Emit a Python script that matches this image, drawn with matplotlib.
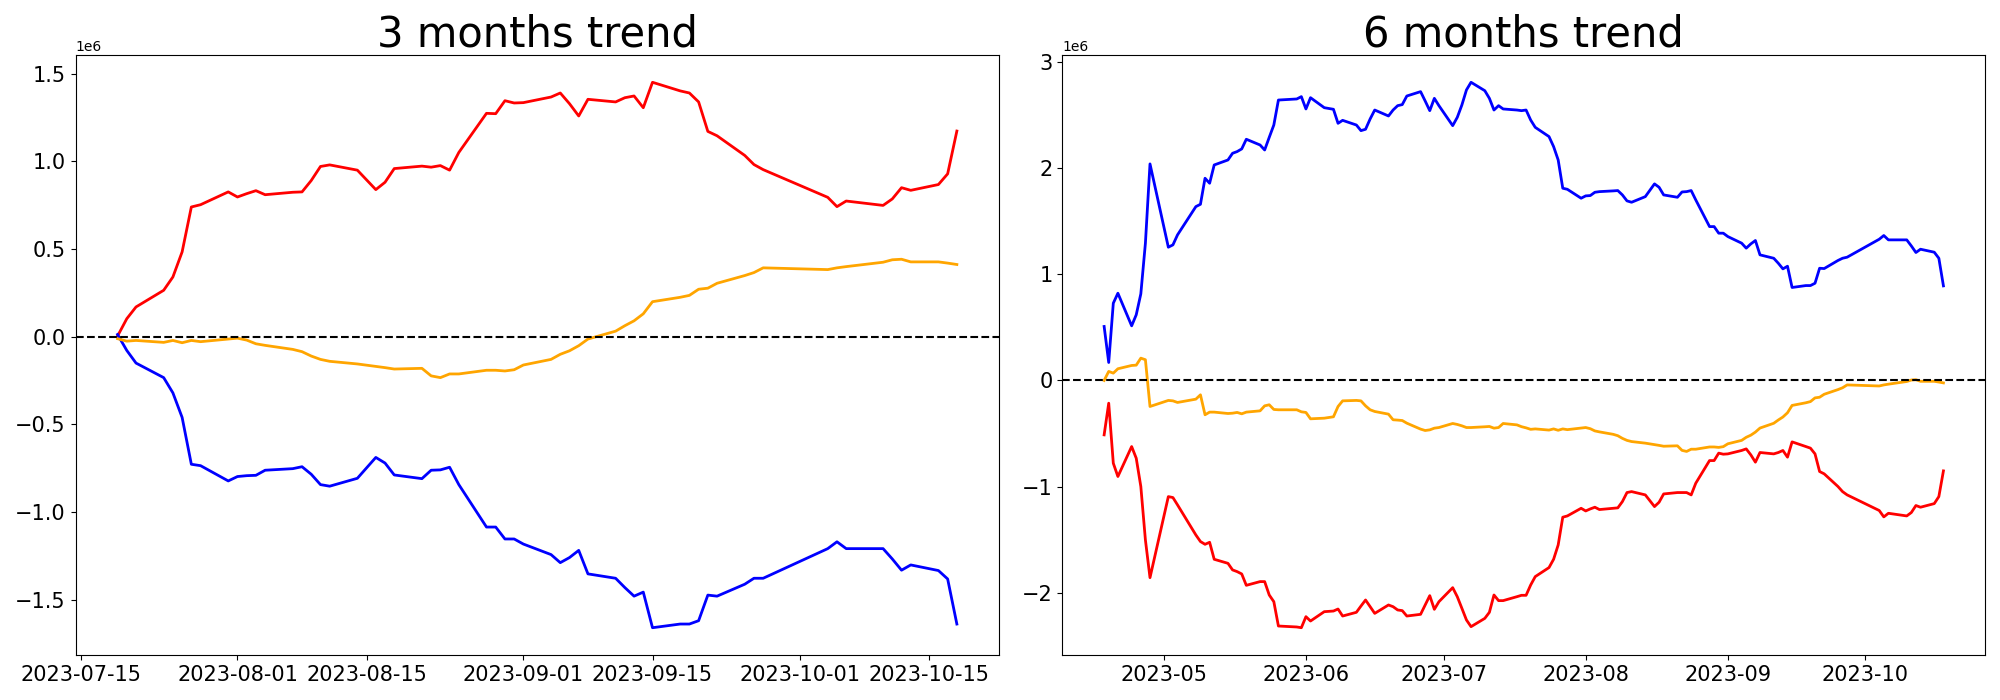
import matplotlib

matplotlib.use("Agg")
import matplotlib.pyplot as plt
import pandas as pd

# KRX closed days inside the plotted range
HOLIDAYS = ["2023-05-01", "2023-05-05", "2023-05-29", "2023-06-06", "2023-08-15",
            "2023-09-28", "2023-09-29", "2023-10-02", "2023-10-03", "2023-10-09"]


def trading_days(start, end):
    days = pd.bdate_range(start, end)
    return days[~days.isin(pd.to_datetime(HOLIDAYS))]


dates_3m = trading_days("2023-07-19", "2023-10-18")
dates_6m = trading_days("2023-04-18", "2023-10-18")

# 3 months trend, values in 1e6
red_3m = [0.004, 0.103, 0.170, 0.265, 0.341, 0.484, 0.740, 0.753, 0.826,
          0.797, 0.816, 0.833, 0.810, 0.824, 0.826, 0.891, 0.971, 0.980, 0.950, 0.839,
          0.881, 0.959, 0.973, 0.967, 0.976, 0.950, 1.051, 1.274, 1.272, 1.346, 1.333,
          1.335, 1.367, 1.390, 1.329, 1.259, 1.354, 1.339, 1.363, 1.373, 1.306, 1.451,
          1.402, 1.390, 1.339, 1.171, 1.146, 1.034, 0.982, 0.953,
          0.795, 0.742, 0.774, 0.749, 0.786, 0.850, 0.835, 0.868, 0.929, 1.173]
blue_3m = [0.013, -0.078, -0.150, -0.233, -0.320, -0.460, -0.727, -0.735, -0.822,
           -0.797, -0.792, -0.790, -0.761, -0.752, -0.741, -0.784, -0.843, -0.852, -0.807,
           -0.688, -0.720, -0.788, -0.809, -0.761, -0.759, -0.744, -0.843, -1.085, -1.085,
           -1.153, -1.153,
           -1.182, -1.242, -1.288, -1.259, -1.218, -1.352, -1.377, -1.430, -1.479, -1.456,
           -1.659, -1.638, -1.638, -1.619, -1.473, -1.479, -1.411, -1.377, -1.377,
           -1.208, -1.169, -1.208, -1.208, -1.267, -1.331, -1.301, -1.333, -1.381, -1.638]
orange_3m = [-0.011, -0.025, -0.021, -0.032, -0.021, -0.034, -0.021, -0.028, -0.013,
             -0.008, -0.019, -0.040, -0.049, -0.072, -0.085, -0.110, -0.129, -0.140, -0.155,
             -0.169, -0.176, -0.184, -0.180, -0.223, -0.233, -0.212, -0.212, -0.191, -0.191,
             -0.195, -0.188,
             -0.161, -0.129, -0.100, -0.080, -0.051, -0.013, 0.032, 0.063, 0.091, 0.131,
             0.200, 0.225, 0.236, 0.271, 0.277, 0.305, 0.349, 0.366, 0.393,
             0.383, 0.393, 0.400, 0.425, 0.439, 0.442, 0.427, 0.427, 0.420, 0.412]

# 6 months trend, values in 1e6
blue_6m = [0.508, 0.169, 0.727, 0.821, 0.514, 0.618, 0.815, 1.292, 2.038,
           1.254, 1.276, 1.370, 1.636, 1.658, 1.903, 1.856, 2.028, 2.075, 2.138, 2.154,
           2.179, 2.270, 2.216, 2.169, 2.288, 2.404, 2.639, 2.649, 2.671,
           2.555, 2.661, 2.567, 2.552, 2.420, 2.448, 2.404, 2.351, 2.364, 2.461, 2.545,
           2.489, 2.545, 2.586, 2.596, 2.677, 2.718, 2.630, 2.539, 2.655, 2.586,
           2.398, 2.476, 2.592, 2.734, 2.806, 2.727, 2.655, 2.545, 2.586, 2.555, 2.545,
           2.539, 2.545, 2.451, 2.382, 2.295, 2.201, 2.075, 1.809, 1.799, 1.715,
           1.737, 1.740, 1.771, 1.777, 1.784, 1.787, 1.746, 1.690, 1.677, 1.730, 1.850,
           1.818, 1.746, 1.724, 1.774, 1.777, 1.787, 1.699, 1.448, 1.448, 1.386, 1.386,
           1.354, 1.292, 1.245, 1.285, 1.317, 1.182, 1.150, 1.103, 1.050, 1.075, 0.875,
           0.893, 0.893, 0.915, 1.056, 1.053, 1.129, 1.150, 1.160,
           1.329, 1.364, 1.323, 1.323, 1.266, 1.204, 1.235, 1.207, 1.150, 0.890]
red_6m = [-0.512, -0.214, -0.779, -0.904, -0.622, -0.732, -0.998, -1.501, -1.856,
          -1.093, -1.102, -1.171, -1.454, -1.516, -1.542, -1.523, -1.683, -1.721, -1.783,
          -1.799, -1.821, -1.928, -1.893, -1.893, -2.019, -2.082, -2.311, -2.320, -2.327,
          -2.223, -2.264, -2.176, -2.170, -2.151, -2.217, -2.182, -2.123, -2.066, -2.129,
          -2.192, -2.113, -2.129, -2.160, -2.166, -2.217, -2.201, -2.113, -2.025, -2.154,
          -2.082,
          -1.950, -2.035, -2.144, -2.254, -2.317, -2.239, -2.182, -2.019, -2.072, -2.072,
          -2.035, -2.022, -2.022, -1.925, -1.846, -1.761, -1.683, -1.548, -1.287, -1.275,
          -1.203,
          -1.228, -1.209, -1.193, -1.215, -1.203, -1.199, -1.140, -1.055, -1.046, -1.077,
          -1.187, -1.146, -1.068, -1.055, -1.055, -1.055, -1.077, -0.967, -0.754, -0.754,
          -0.684, -0.694,
          -0.691, -0.659, -0.644, -0.700, -0.769, -0.678, -0.691, -0.678, -0.659, -0.722,
          -0.578, -0.622, -0.637, -0.691, -0.857, -0.879, -0.998, -1.046, -1.077,
          -1.224, -1.284, -1.250, -1.275, -1.243, -1.177, -1.193, -1.159, -1.093, -0.851]
orange_6m = [0.000, 0.085, 0.069, 0.110, 0.141, 0.144, 0.210, 0.195, -0.245,
             -0.188, -0.192, -0.207, -0.176, -0.135, -0.323, -0.298, -0.298, -0.311, -0.308,
             -0.301, -0.314, -0.298, -0.286, -0.239, -0.229, -0.273, -0.276, -0.276, -0.295,
             -0.301, -0.361, -0.355, -0.342, -0.245, -0.192, -0.188, -0.192, -0.239, -0.276,
             -0.292, -0.317, -0.370, -0.373, -0.377, -0.402, -0.458, -0.471, -0.465, -0.449,
             -0.443,
             -0.405, -0.414, -0.427, -0.443, -0.443, -0.436, -0.433, -0.449, -0.443, -0.405,
             -0.418, -0.435, -0.446, -0.460, -0.456, -0.467, -0.456, -0.469, -0.456, -0.463,
             -0.448,
             -0.443, -0.454, -0.475, -0.484, -0.507, -0.520, -0.545, -0.564, -0.575, -0.590,
             -0.604, -0.611, -0.619, -0.615, -0.658, -0.668, -0.647, -0.647, -0.626, -0.626,
             -0.630, -0.623,
             -0.596, -0.564, -0.535, -0.515, -0.486, -0.448, -0.403, -0.372, -0.344, -0.304,
             -0.235, -0.210, -0.199, -0.164, -0.158, -0.130, -0.086, -0.069, -0.042,
             -0.052, -0.042, -0.035, -0.010, 0.004, 0.007, -0.008, -0.008, -0.015, -0.023]

SCALE = 1e6
LW = 2.0


def draw(ax, dates, series, title):
    for values, color in series:
        ax.plot(dates, [v * SCALE for v in values], color=color, linewidth=LW)
    ax.axhline(0, color="black", linestyle="--", linewidth=1.5)
    ax.set_title(title, fontsize=30)
    ax.tick_params(labelsize=15)


fig, axs = plt.subplots(1, 2, figsize=(20, 7), dpi=100)
draw(axs[0], dates_3m, [(red_3m, "red"), (blue_3m, "blue"), (orange_3m, "orange")],
     "3 months trend")
draw(axs[1], dates_6m, [(red_6m, "red"), (blue_6m, "blue"), (orange_6m, "orange")],
     "6 months trend")
fig.subplots_adjust(left=0.0378, right=0.9927, bottom=0.0643, top=0.9214, wspace=0.0686)
fig.savefig("out.png", dpi=100)
